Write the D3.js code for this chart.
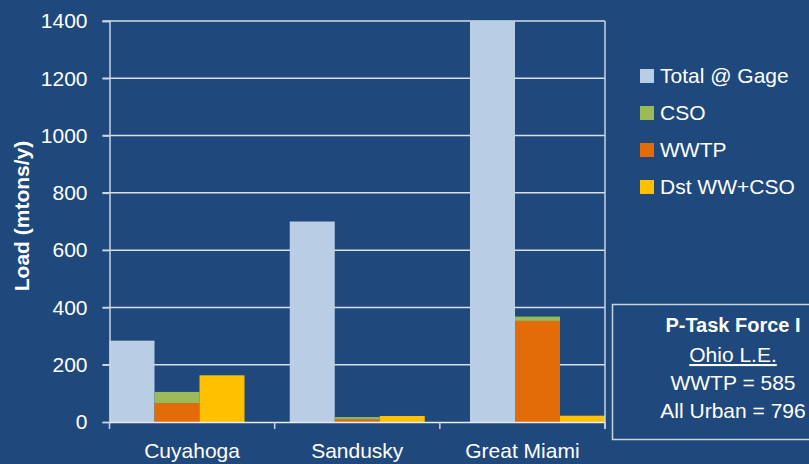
<!doctype html>
<html>
<head>
    <meta charset="UTF-8">
    <title>P loads</title>
    <script src="https://d3js.org/d3.v7.min.js"></script>
    <style>
        body { margin: 0; background: #1F497D; }
        text { font-family: "Liberation Sans", Arial, sans-serif; fill: #FFFFFF; }
    </style>
</head>
<body>
    <svg class="chart" width="809" height="464"></svg>
    <script>
        // data
        var categories = ["Cuyahoga", "Sandusky", "Great Miami"];
        var totalGage = [284, 700, 1400];
        var cso = [39, 8, 15];
        var wwtp = [66, 9, 353];
        var dstWwCso = [163, 21, 22];
        var yTicks = [0, 200, 400, 600, 800, 1000, 1200, 1400];
        var legendNames = ["Total @ Gage", "CSO", "WWTP", "Dst WW+CSO"];
        var legendColors = ["#B9CDE5", "#9BBB59", "#E36C09", "#FFC000"];
        var boxLines = ["P-Task Force I", "Ohio L.E.", "WWTP = 585", "All Urban = 796"];

        var svg = d3.select(".chart");
        var pLeft = 109.5, pRight = 605, pTop = 21, pBottom = 422;

        var y = d3.scaleLinear().domain([0, 1400]).range([pBottom, pTop]);
        var xAxisScale = d3.scaleBand().domain(categories).range([pLeft, pRight]);
        // bar groups sit a bit off the axis bands, as in the original
        var xGroup = d3.scalePoint().domain(categories).range([177, 537.5]);
        var barW = 45;

        // gridlines
        svg.append("g").selectAll("line")
            .data(yTicks.slice(1))
            .enter().append("line")
            .attr("x1", pLeft - 7).attr("x2", pRight)
            .attr("y1", function (d) { return y(d); })
            .attr("y2", function (d) { return y(d); })
            .attr("stroke", "#D6DEE9")
            .attr("stroke-width", 1.5);

        // bars
        var g = svg.append("g");
        categories.forEach(function (c, i) {
            var cx = xGroup(c) - 1.5 * barW;
            g.append("rect")
                .attr("x", cx).attr("y", y(totalGage[i]))
                .attr("width", barW).attr("height", y(0) - y(totalGage[i]))
                .attr("fill", legendColors[0]);
            g.append("rect")
                .attr("x", cx + barW).attr("y", y(wwtp[i]))
                .attr("width", barW).attr("height", y(0) - y(wwtp[i]))
                .attr("fill", legendColors[2]);
            g.append("rect")
                .attr("x", cx + barW).attr("y", y(wwtp[i] + cso[i]))
                .attr("width", barW).attr("height", y(wwtp[i]) - y(wwtp[i] + cso[i]))
                .attr("fill", legendColors[1]);
            g.append("rect")
                .attr("x", cx + 2 * barW).attr("y", y(dstWwCso[i]))
                .attr("width", barW).attr("height", y(0) - y(dstWwCso[i]))
                .attr("fill", legendColors[3]);
        });

        // y axis
        var yAxis = svg.append("g")
            .attr("transform", "translate(" + pLeft + ",0)")
            .call(d3.axisLeft(y).tickValues(yTicks).tickSize(7).tickPadding(15).tickFormat(d3.format("d")));
        yAxis.selectAll("path, line").attr("stroke", "#C9D3E0").attr("stroke-width", 1.5);
        yAxis.selectAll("text").style("font-size", "21px").attr("fill", "#FFFFFF");

        // x axis
        var xAxis = svg.append("g")
            .attr("transform", "translate(0," + pBottom + ")")
            .call(d3.axisBottom(xAxisScale).tickSize(0).tickPadding(21));
        xAxis.select("path").attr("stroke", "#E8EDF3").attr("stroke-width", 1.5);
        xAxis.selectAll("text").style("font-size", "21px").attr("fill", "#FFFFFF");
        svg.append("g").selectAll("line")
            .data([pLeft, xAxisScale("Sandusky"), xAxisScale("Great Miami"), pRight])
            .enter().append("line")
            .attr("x1", function (d) { return d; }).attr("x2", function (d) { return d; })
            .attr("y1", pBottom).attr("y2", pBottom + 7)
            .attr("stroke", "#C9D3E0").attr("stroke-width", 1.5);

        // right border
        svg.append("line")
            .attr("x1", pRight).attr("x2", pRight).attr("y1", pTop).attr("y2", pBottom + 7)
            .attr("stroke", "#C9D3E0").attr("stroke-width", 1.5);

        // y title
        svg.append("text")
            .attr("transform", "translate(29," + 216 + ") rotate(-90)")
            .attr("text-anchor", "middle")
            .style("font-size", "21px").style("font-weight", "bold")
            .text("Load (mtons/y)");

        // legend
        var leg = svg.append("g").attr("transform", "translate(640,69)");
        legendNames.forEach(function (n, i) {
            leg.append("rect").attr("x", 0).attr("y", i * 37)
                .attr("width", 14).attr("height", 14).attr("fill", legendColors[i]);
            leg.append("text").attr("x", 20).attr("y", i * 37 + 14)
                .style("font-size", "21px").text(n);
        });

        // text box
        svg.append("rect")
            .attr("x", 612.5).attr("y", 304.5).attr("width", 210).attr("height", 135)
            .attr("fill", "none").attr("stroke", "#C9D3E0").attr("stroke-width", 1.5);
        var boxY = [332, 362, 390, 418];
        boxLines.forEach(function (t, i) {
            svg.append("text")
                .attr("x", 733).attr("y", boxY[i])
                .attr("text-anchor", "middle")
                .style("font-size", i == 0 ? "20px" : "21px")
                .style("font-weight", i == 0 ? "bold" : "normal")
                .style("text-decoration", i == 1 ? "underline" : "none")
                .text(t);
        });
    </script>
</body>
</html>
